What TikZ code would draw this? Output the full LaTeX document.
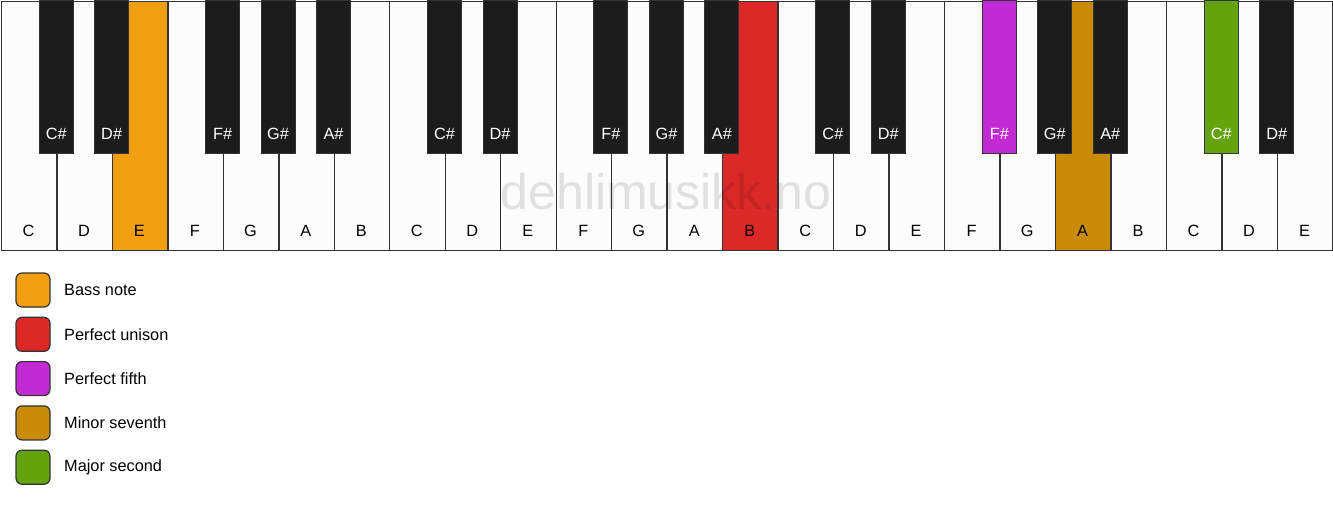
\documentclass[tikz,border=0pt]{standalone}
\usepackage{fontspec}
\setmainfont{Liberation Sans}
\definecolor{keywhite}{HTML}{FDFCFA}
\definecolor{keyblack}{HTML}{1C1C1C}
\definecolor{keyedge}{HTML}{333333}
\definecolor{cbass}{HTML}{F39F0F}
\definecolor{cunison}{HTML}{DD2828}
\definecolor{cfifth}{HTML}{C22BD4}
\definecolor{cseventh}{HTML}{C98A05}
\definecolor{csecond}{HTML}{65A30D}
\begin{document}
\begin{tikzpicture}[x=1pt,y=-1pt,
  wkey/.style={draw=keyedge, line width=1.4pt, fill=keywhite, rectangle, inner sep=0pt, minimum width=55.48pt, minimum height=249pt, anchor=north west},
  bkey/.style={draw=keyedge, line width=1pt, fill=keyblack, rectangle, inner sep=0pt, minimum width=34pt, minimum height=153pt, anchor=north},
  wlabel/.style={font=\fontsize{16.3}{19}\selectfont, text=black, anchor=base},
  blabel/.style={font=\fontsize{16.3}{19}\selectfont, text=white, anchor=base},
  legbox/.style={draw=keyedge, line width=1.2pt, rounded corners=6pt, minimum width=34pt, minimum height=34pt, inner sep=0pt},
  legtext/.style={font=\fontsize{16.3}{19}\selectfont, anchor=west, inner sep=0pt}]
\useasboundingbox (0,0) rectangle (1333,506);
\fill[white] (0,0) rectangle (1333,506);
\def\w{55.48}
% white keys
\foreach \i/\n/\c in {0/C/keywhite,1/D/keywhite,2/E/cbass,3/F/keywhite,4/G/keywhite,5/A/keywhite,6/B/keywhite,
  7/C/keywhite,8/D/keywhite,9/E/keywhite,10/F/keywhite,11/G/keywhite,12/A/keywhite,13/B/cunison,
  14/C/keywhite,15/D/keywhite,16/E/keywhite,17/F/keywhite,18/G/keywhite,19/A/cseventh,20/B/keywhite,
  21/C/keywhite,22/D/keywhite,23/E/keywhite}{
  \node[wkey, fill=\c] (w\i) at ({\i*\w+0.7},0.7) {};
  \node[wlabel] (wl\i) at ({(\i+0.5)*\w+0.7},236) {\n};
}
% black keys
\foreach \b/\n/\c in {1/C\#/keyblack,2/D\#/keyblack,4/F\#/keyblack,5/G\#/keyblack,6/A\#/keyblack,
  8/C\#/keyblack,9/D\#/keyblack,11/F\#/keyblack,12/G\#/keyblack,13/A\#/keyblack,
  15/C\#/keyblack,16/D\#/keyblack,18/F\#/cfifth,19/G\#/keyblack,20/A\#/keyblack,
  22/C\#/csecond,23/D\#/keyblack}{
  \node[bkey, fill=\c] (b\b) at ({\b*\w+0.7},0) {};
  \node[blabel] (bl\b) at ({\b*\w+0.7},139) {\n};
}
% watermark
\node[font=\fontsize{50}{54}\selectfont, text=black, opacity=0.11, anchor=base] (wm) at (666,209) {dehlimusikk.no};
% legend
\foreach \k/\c/\t in {0/cbass/Bass note,1/cunison/Perfect unison,2/cfifth/Perfect fifth,3/cseventh/Minor seventh,4/csecond/Major second}{
  \node[legbox, fill=\c] (lb\k) at (33,{290+\k*44.3}) {};
  \node[legtext] (lt\k) at (64,{290+\k*44.3}) {\t};
}
\end{tikzpicture}
\end{document}
